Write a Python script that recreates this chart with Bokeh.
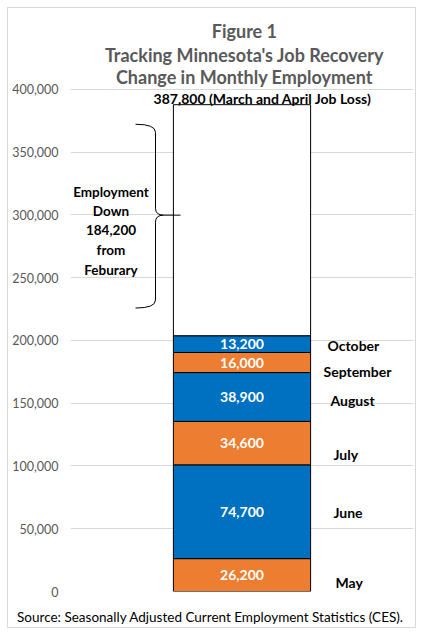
import numpy as np
from bokeh.plotting import figure
from bokeh.layouts import column
from bokeh.models import (ColumnDataSource, FixedTicker, NumeralTickFormatter, Label, Range1d,
                          CustomJSTickFormatter)
from bokeh.core.properties import value
from bokeh.embed import file_html
from bokeh.resources import INLINE

# ---- data ----
months = ["May", "June", "July", "August", "September", "October"]
changes = [26200, 74700, 34600, 38900, 16000, 13200]
total_loss = 387800
y_ticks = [0, 50000, 100000, 150000, 200000, 250000, 300000, 350000, 400000]
brace_words = ["Employment", "Down", "from", "Feburary"]
title_lines = ["Figure 1", "Tracking Minnesota's Job Recovery", "Change in Monthly Employment"]
source_text = "Source: Seasonally Adjusted Current Employment Statistics (CES)."

# ---- styles / layout nudges ----
seg_colors = ["#ED7D31", "#0070C0", "#ED7D31", "#0070C0", "#ED7D31", "#0070C0"]
month_dx = [5, 3, 3, 0, -7, -3]        # px
month_dy = [-7.5, -1, -11, -4, -8.5, -1]  # px (negative = lower)
title_dy = [58, 34, 12]                   # px above the top gridline
FONT = "Lato"
GRAY = "#595959"

tops = np.cumsum(changes)
bottoms = tops - np.array(changes)
centers = (tops + bottoms) / 2
recovered = int(tops[-1])
remaining = total_loss - recovered

src = ColumnDataSource(dict(
    month=months, bottom=bottoms, top=tops, center=centers, color=seg_colors,
    vlabel=[f"{v:,}" for v in changes], dx=month_dx, dy=[-d for d in month_dy],
))

# plot frame: 503 px for the 0..400,000 band, plus 81 px of headroom for the title
y_top = y_ticks[-1] * (503 + 81) / 503
p = figure(width=407, height=619, output_backend="svg", toolbar_location=None,
           x_range=Range1d(0, 1), y_range=Range1d(0, y_top),
           min_border_left=62, min_border_right=2, min_border_top=0, min_border_bottom=35)
p.outline_line_color = None
p.xgrid.visible = False
p.ygrid.grid_line_color = "#d9d9d9"
p.yaxis.ticker = FixedTicker(ticks=y_ticks)
p.yaxis.formatter = NumeralTickFormatter(format="0,0")
for ax in (p.xaxis, p.yaxis):
    ax.axis_line_color = None
    ax.major_tick_line_color = None
    ax.minor_tick_line_color = None
    ax.major_tick_out = 0
    ax.major_tick_in = 0
    ax.minor_tick_out = 0
    ax.minor_tick_in = 0
p.yaxis.major_label_text_color = GRAY
p.yaxis.major_label_text_font = FONT
p.yaxis.major_label_text_font_size = "12.5px"
p.yaxis.major_label_standoff = 12

# source note under the chart, carried by the bottom axis
p.xaxis.ticker = FixedTicker(ticks=[0.408], minor_ticks=[])
p.xaxis.formatter = CustomJSTickFormatter(args=dict(t=source_text), code="return t;")
p.xaxis.major_label_text_color = "black"
p.xaxis.major_label_text_font = FONT
p.xaxis.major_label_text_font_size = "13.5px"
p.xaxis.major_label_standoff = 17

# title lines
for t, dy in zip(title_lines, title_dy):
    p.add_layout(Label(x=0.507, y=y_ticks[-1], y_offset=dy, text=t, text_align="center",
                       text_baseline="middle", text_color=GRAY, text_font=FONT,
                       text_font_size="18px", text_font_style="bold"))

# remaining-loss box
p.vbar(x=0.5, width=0.4, bottom=recovered, top=total_loss, fill_color="white",
       line_color="black", line_width=1)
# recovered segments
p.vbar(x=0.5, width=0.4, bottom="bottom", top="top", fill_color="color",
       line_color="black", line_width=1, source=src)
p.text(x=0.5, y="center", text="vlabel", source=src, text_color="white",
       text_align="center", text_baseline="middle", text_font=value(FONT),
       text_font_size="14px", text_font_style="bold")
p.text(x=0.758, y="center", text="month", source=src, x_offset="dx", y_offset="dy",
       text_color="black", text_align="left", text_baseline="middle",
       text_font=value(FONT), text_font_size="14px", text_font_style="bold")

# top label
p.add_layout(Label(x=0.56, y=total_loss, y_offset=6, text=f"{total_loss:,} (March and April Job Loss)",
                   text_align="center", text_baseline="middle", text_font=FONT,
                   text_font_size="14px", text_font_style="bold", text_color="black"))

# brace
bx_end, bx_v, bx_tip, bx_line = 0.1895, 0.2478, 0.2711, 0.3207
yt, yt2, ym1, ym, ym2, yb2, yb = 372200, 365800, 305400, 299800, 294200, 232200, 225800
p.quadratic(x0=[bx_end, bx_v, bx_tip, bx_v], y0=[yt, ym1, ym, yb2],
            x1=[bx_v, bx_tip, bx_v, bx_end], y1=[yt2, ym, ym2, yb],
            cx=[bx_v, bx_v, bx_v, bx_v], cy=[yt, ym, ym, yb],
            line_color="black", line_width=1)
p.segment(x0=[bx_v, bx_v, bx_tip], y0=[yt2, ym2, ym], x1=[bx_v, bx_v, bx_line], y1=[ym1, yb2, ym],
          line_color="black", line_width=1)

brace_lines = [brace_words[0], brace_words[1], f"{remaining:,}", brace_words[2], brace_words[3]]
brace_y = [318100, 303000, 287900, 272000, 256100]
for t, yy in zip(brace_lines, brace_y):
    p.add_layout(Label(x=0.118, y=yy, text=t, text_align="center", text_baseline="middle",
                       text_font=FONT, text_font_size="13.5px", text_font_style="bold",
                       text_color="black"))

layout = column(p, styles={"border": "1px solid #d9d9d9", "margin-left": "7px", "margin-top": "7px"})
open("out.html", "w").write(file_html(layout, INLINE))
